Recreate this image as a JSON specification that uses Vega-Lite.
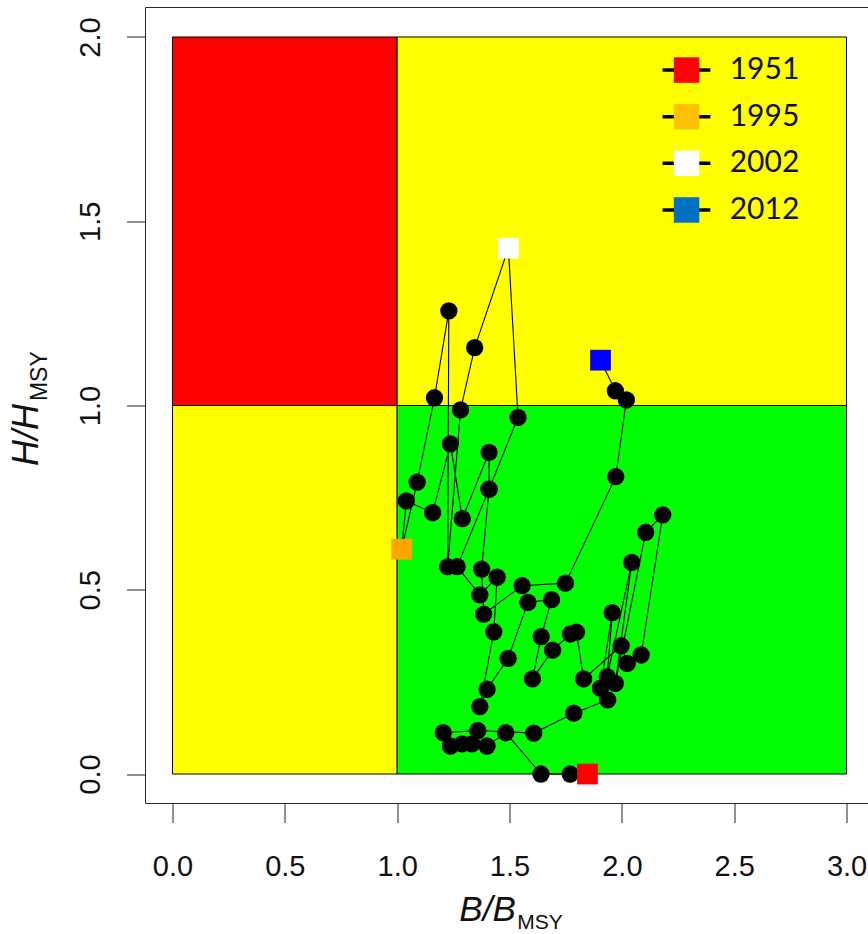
{
  "$schema": "https://vega.github.io/schema/vega-lite/v6.json",
  "width": 722.5,
  "height": 796,
  "autosize": {"type": "none"},
  "padding": {"left": 145.5, "top": 7.5, "right": 0, "bottom": 130.5},
  "background": "white",
  "config": {
    "view": {"stroke": null},
    "axis": {
      "labelFont": "Liberation Sans",
      "labelFontSize": 29,
      "labelColor": "#111",
      "tickColor": "#222",
      "tickWidth": 1,
      "tickSize": 19,
      "domain": false,
      "grid": false
    }
  },
  "datasets": {
    "zones": [
      {"zone": "overfished, overfishing", "b0": 0, "b1": 1, "h0": 1, "h1": 2},
      {"zone": "not overfished, overfishing", "b0": 1, "b1": 3, "h0": 1, "h1": 2},
      {"zone": "overfished, no overfishing", "b0": 0, "b1": 1, "h0": 0, "h1": 1},
      {"zone": "not overfished, no overfishing", "b0": 1, "b1": 3, "h0": 0, "h1": 1}
    ],
    "kobe": [
      {"year": 1951, "B": 1.847, "H": 0.000},
      {"year": 1952, "B": 1.770, "H": 0.000},
      {"year": 1953, "B": 1.640, "H": 0.000},
      {"year": 1954, "B": 1.483, "H": 0.112},
      {"year": 1955, "B": 1.400, "H": 0.076},
      {"year": 1956, "B": 1.333, "H": 0.082},
      {"year": 1957, "B": 1.289, "H": 0.082},
      {"year": 1958, "B": 1.237, "H": 0.076},
      {"year": 1959, "B": 1.205, "H": 0.112},
      {"year": 1960, "B": 1.359, "H": 0.118},
      {"year": 1961, "B": 1.608, "H": 0.111},
      {"year": 1962, "B": 1.786, "H": 0.165},
      {"year": 1963, "B": 1.937, "H": 0.201},
      {"year": 1964, "B": 1.905, "H": 0.233},
      {"year": 1965, "B": 1.957, "H": 0.438},
      {"year": 1966, "B": 1.935, "H": 0.264},
      {"year": 1967, "B": 2.044, "H": 0.574},
      {"year": 1968, "B": 1.971, "H": 0.246},
      {"year": 1969, "B": 2.106, "H": 0.656},
      {"year": 1970, "B": 2.182, "H": 0.703},
      {"year": 1971, "B": 2.086, "H": 0.323},
      {"year": 1972, "B": 2.024, "H": 0.300},
      {"year": 1973, "B": 1.997, "H": 0.348},
      {"year": 1974, "B": 1.830, "H": 0.258},
      {"year": 1975, "B": 1.798, "H": 0.385},
      {"year": 1976, "B": 1.771, "H": 0.380},
      {"year": 1977, "B": 1.692, "H": 0.336},
      {"year": 1978, "B": 1.602, "H": 0.258},
      {"year": 1979, "B": 1.641, "H": 0.373},
      {"year": 1980, "B": 1.687, "H": 0.473},
      {"year": 1981, "B": 1.582, "H": 0.466},
      {"year": 1982, "B": 1.494, "H": 0.314},
      {"year": 1983, "B": 1.400, "H": 0.230},
      {"year": 1984, "B": 1.368, "H": 0.183},
      {"year": 1985, "B": 1.430, "H": 0.386},
      {"year": 1986, "B": 1.445, "H": 0.534},
      {"year": 1987, "B": 1.368, "H": 0.486},
      {"year": 1988, "B": 1.267, "H": 0.563},
      {"year": 1989, "B": 1.409, "H": 0.773},
      {"year": 1990, "B": 1.409, "H": 0.873},
      {"year": 1991, "B": 1.290, "H": 0.693},
      {"year": 1992, "B": 1.237, "H": 0.896},
      {"year": 1993, "B": 1.158, "H": 0.709},
      {"year": 1994, "B": 1.041, "H": 0.741},
      {"year": 1995, "B": 1.020, "H": 0.610},
      {"year": 1996, "B": 1.089, "H": 0.792},
      {"year": 1997, "B": 1.166, "H": 1.021},
      {"year": 1998, "B": 1.230, "H": 1.257},
      {"year": 1999, "B": 1.225, "H": 0.563},
      {"year": 2000, "B": 1.282, "H": 0.988},
      {"year": 2001, "B": 1.345, "H": 1.157},
      {"year": 2002, "B": 1.495, "H": 1.427},
      {"year": 2003, "B": 1.538, "H": 0.968},
      {"year": 2004, "B": 1.409, "H": 0.773},
      {"year": 2005, "B": 1.376, "H": 0.556},
      {"year": 2006, "B": 1.385, "H": 0.434},
      {"year": 2007, "B": 1.556, "H": 0.511},
      {"year": 2008, "B": 1.749, "H": 0.518},
      {"year": 2009, "B": 1.973, "H": 0.807},
      {"year": 2010, "B": 2.020, "H": 1.015},
      {"year": 2011, "B": 1.971, "H": 1.040},
      {"year": 2012, "B": 1.905, "H": 1.123}
    ],
    "keyYears": [
      {"year": "1951"},
      {"year": "1995"},
      {"year": "2002"},
      {"year": "2012"}
    ]
  },
  "resolve": {"scale": {"y": "independent", "fill": "independent", "color": "independent"}},
  "layer": [
    {
      "layer": [
        {
          "data": {"name": "zones"},
          "mark": {"type": "rect", "stroke": "#000", "strokeWidth": 1},
          "encoding": {
            "x": {
              "field": "b0", "type": "quantitative",
              "scale": {"domain": [-0.12, 3.0955], "nice": false, "zero": false},
              "axis": {"values": [0, 0.5, 1, 1.5, 2, 2.5, 3], "format": ".1f", "title": null,
                       "labelBaseline": "top", "labelPadding": 30, "labelFlush": false}
            },
            "x2": {"field": "b1"},
            "y": {
              "field": "h0", "type": "quantitative",
              "scale": {"domain": [-0.08, 2.08], "nice": false, "zero": false},
              "axis": {"values": [0, 0.5, 1, 1.5, 2], "format": ".1f", "title": null,
                       "labelAngle": -90, "labelAlign": "center", "labelBaseline": "alphabetic",
                       "labelPadding": 27, "labelFlush": false}
            },
            "y2": {"field": "h1"},
            "color": {
              "field": "zone", "type": "nominal", "legend": null,
              "scale": {
                "domain": ["overfished, overfishing", "not overfished, overfishing", "overfished, no overfishing", "not overfished, no overfishing"],
                "range": ["#ff0000", "#ffff00", "#ffff00", "#00ff00"]
              }
            }
          }
        },
        {
          "data": {"values": [{}]},
          "mark": {"type": "rect", "filled": false, "stroke": "#2a2a2a", "strokeWidth": 1},
          "encoding": {
            "x": {"datum": -0.12}, "x2": {"datum": 3.12},
            "y": {"datum": -0.08}, "y2": {"datum": 2.08}
          }
        },
        {
          "data": {"name": "kobe"},
          "mark": {"type": "line", "color": "#000", "strokeWidth": 1.1},
          "encoding": {
            "x": {"field": "B", "type": "quantitative"},
            "y": {"field": "H", "type": "quantitative"},
            "order": {"field": "year", "type": "quantitative"}
          }
        },
        {
          "data": {"name": "kobe"},
          "transform": [{"filter": {"not": {"field": "year", "oneOf": [1951, 1995, 2002, 2012]}}}],
          "mark": {"type": "point", "shape": "circle", "filled": true, "color": "#000", "opacity": 1, "size": 300},
          "encoding": {
            "x": {"field": "B", "type": "quantitative"},
            "y": {"field": "H", "type": "quantitative"}
          }
        },
        {
          "data": {"name": "kobe"},
          "transform": [{"filter": {"field": "year", "oneOf": [1951, 1995, 2002, 2012]}}],
          "mark": {"type": "point", "shape": "square", "filled": true, "opacity": 1, "size": 430, "strokeWidth": 0},
          "encoding": {
            "x": {"field": "B", "type": "quantitative"},
            "y": {"field": "H", "type": "quantitative"},
            "fill": {
              "field": "year", "type": "nominal", "legend": null,
              "scale": {"domain": [1951, 1995, 2002, 2012], "range": ["#ff0000", "#ffa500", "#ffffff", "#0000ff"]}
            }
          }
        },
        {
          "data": {"values": [{}]},
          "mark": {"type": "text", "text": "B/B", "font": "Liberation Sans", "fontStyle": "italic", "fontSize": 35, "align": "right", "baseline": "alphabetic", "color": "#111"},
          "encoding": {"x": {"datum": 1.528}, "y": {"datum": -0.4}}
        },
        {
          "data": {"values": [{}]},
          "mark": {"type": "text", "text": "MSY", "font": "Liberation Sans", "fontSize": 21, "align": "left", "baseline": "alphabetic", "color": "#111"},
          "encoding": {"x": {"datum": 1.535}, "y": {"datum": -0.42}}
        },
        {
          "data": {"values": [{}]},
          "mark": {"type": "text", "text": "H/H", "font": "Liberation Sans", "fontStyle": "italic", "fontSize": 36, "align": "right", "baseline": "alphabetic", "angle": 270, "color": "#111"},
          "encoding": {"x": {"datum": -0.5985}, "y": {"datum": 1.004}}
        },
        {
          "data": {"values": [{}]},
          "mark": {"type": "text", "text": "MSY", "font": "Liberation Sans", "fontSize": 23, "align": "left", "baseline": "alphabetic", "angle": 270, "color": "#111"},
          "encoding": {"x": {"datum": -0.5584}, "y": {"datum": 1.012}}
        }
      ]
    },
    {
      "data": {"name": "keyYears"},
      "encoding": {
        "y": {
          "field": "year", "type": "ordinal", "axis": null,
          "scale": {"range": [39.2, 225.8]}
        }
      },
      "layer": [
        {
          "mark": {"type": "rule", "color": "#000", "strokeWidth": 3.5},
          "encoding": {"x": {"datum": 2.181}, "x2": {"datum": 2.394}}
        },
        {
          "mark": {"type": "point", "shape": "square", "filled": true, "opacity": 1, "size": 650, "strokeWidth": 0},
          "encoding": {
            "x": {"datum": 2.288},
            "fill": {
              "field": "year", "type": "nominal", "legend": null,
              "scale": {"domain": ["1951", "1995", "2002", "2012"], "range": ["#ff0000", "#ffc000", "#ffffff", "#0070c0"]}
            }
          }
        },
        {
          "mark": {"type": "text", "font": "Lato", "fontSize": 30, "align": "left", "baseline": "middle", "color": "#111"},
          "encoding": {
            "x": {"datum": 2.48},
            "text": {"field": "year", "type": "nominal"}
          }
        }
      ]
    }
  ]
}
